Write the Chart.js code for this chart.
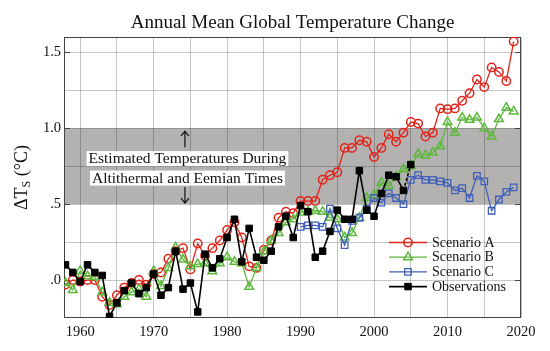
<!DOCTYPE html>
<html>
<head>
<meta charset="utf-8">
<script src="https://cdn.jsdelivr.net/npm/chart.js@4.4.1/dist/chart.umd.min.js"></script>
<style>
  html, body { margin: 0; padding: 0; background: #fff; }
</style>
</head>
<body>
<canvas id="chart" width="550" height="351"></canvas>
<script>
// years on the x axis
const years = [1958, 1959, 1960, 1961, 1962, 1963, 1964, 1965, 1966, 1967,
  1968, 1969, 1970, 1971, 1972, 1973, 1974, 1975, 1976, 1977,
  1978, 1979, 1980, 1981, 1982, 1983, 1984, 1985, 1986, 1987,
  1988, 1989, 1990, 1991, 1992, 1993, 1994, 1995, 1996, 1997,
  1998, 1999, 2000, 2001, 2002, 2003, 2004, 2005, 2006, 2007,
  2008, 2009, 2010, 2011, 2012, 2013, 2014, 2015, 2016, 2017,
  2018, 2019];

const scenarioA = [-0.03, 0.00, -0.01, 0.00, 0.00, -0.11, -0.165, -0.10, -0.05, -0.02,
  0.00, -0.03, 0.04, 0.05, 0.14, 0.19, 0.21, 0.07, 0.24, 0.16,
  0.21, 0.26, 0.33, 0.38, 0.28, 0.09, 0.08, 0.20, 0.26, 0.41,
  0.45, 0.44, 0.52, 0.52, 0.52, 0.66, 0.69, 0.71, 0.87, 0.87,
  0.92, 0.91, 0.81, 0.87, 0.96, 0.91, 0.97, 1.04, 1.03, 0.945,
  0.97, 1.13, 1.125, 1.13, 1.18, 1.23, 1.32, 1.27, 1.40, 1.37,
  1.31, 1.57];

const scenarioB = [-0.02, -0.065, 0.06, 0.025, 0.02, -0.08, -0.15, -0.16, -0.11, -0.08,
  -0.06, -0.11, 0.06, -0.04, 0.08, 0.215, 0.135, 0.09, 0.105, 0.11,
  0.057, 0.11, 0.15, 0.12, 0.11, -0.045, 0.08, 0.19, 0.26, 0.31,
  0.38, 0.40, 0.445, 0.45, 0.456, 0.45, 0.41, 0.40, 0.28, 0.31,
  0.41, 0.54, 0.56, 0.64, 0.62, 0.68, 0.73, 0.75, 0.83, 0.82,
  0.84, 0.88, 1.04, 0.97, 1.07, 1.055, 1.07, 1.00, 0.945, 1.06,
  1.135, 1.11];

const scenarioC = [null, null, null, null, null, null, null, null, null, null,
  null, null, null, null, null, null, null, null, null, null,
  null, null, null, null, null, null, null, null, null, null,
  null, null, 0.35, 0.36, 0.36, 0.35, 0.47, 0.34, 0.23, 0.39,
  0.41, 0.47, 0.54, 0.51, 0.57, 0.54, 0.50, 0.66, 0.69, 0.66,
  0.66, 0.65, 0.64, 0.59, 0.605, 0.54, 0.686, 0.65, 0.456, 0.53,
  0.58, 0.61];

const observations = [0.10, 0.05, -0.01, 0.10, 0.05, 0.03, -0.24, -0.15, -0.07, -0.02,
  -0.09, -0.05, 0.04, -0.10, -0.05, 0.19, -0.06, -0.02, -0.21, 0.17,
  0.08, 0.14, 0.28, 0.40, 0.12, 0.34, 0.15, 0.13, 0.19, 0.35,
  0.42, 0.28, 0.49, 0.45, 0.15, 0.19, 0.32, 0.46, 0.40, 0.40,
  0.72, 0.46, 0.42, 0.57, 0.69, 0.68, 0.59, 0.76, null, null,
  null, null, null, null, null, null, null, null, null, null,
  null, null];

// ticks
const xGridYears = [1960, 1965, 1970, 1975, 1980, 1985, 1990, 1995, 2000, 2005, 2010, 2015, 2020];
const xTickLabels = ['1960', '1970', '1980', '1990', '2000', '2010', '2020'];
const yGridValues = [0, 0.25, 0.5, 0.75, 1.0, 1.25, 1.5];
const yTickValues = [0, 0.5, 1.0, 1.5];
const yTickLabels = ['.0', '.5', '1.0', '1.5'];

// shaded range
const bandLow = 0.5;
const bandHigh = 1.0;

const SERIF = "'Liberation Serif', 'Times New Roman', serif";

const toPoints = arr => years.map((yr, i) => ({x: yr, y: arr[i]})).filter(p => p.y !== null);

const bandPlugin = {
  id: 'band',
  beforeDraw(chart) {
    const {ctx, chartArea: a, scales: {y}} = chart;
    ctx.save();
    ctx.fillStyle = '#b4b1b1';
    const top = y.getPixelForValue(bandHigh);
    const bot = y.getPixelForValue(bandLow);
    ctx.fillRect(a.left, top, a.right - a.left, bot - top);
    ctx.restore();
  }
};

const framePlugin = {
  id: 'frame',
  beforeDatasetsDraw(chart) {
    const {ctx, chartArea: a, scales: {y}} = chart;
    ctx.save();
    ctx.strokeStyle = '#444';
    ctx.lineWidth = 1;
    ctx.strokeRect(a.left + 0.5, a.top + 0.5, a.right - a.left - 1, a.bottom - a.top - 1);
    // short inner ticks on both sides
    yTickValues.forEach(v => {
      const py = Math.round(y.getPixelForValue(v)) + 0.5;
      ctx.beginPath();
      ctx.moveTo(a.left, py); ctx.lineTo(a.left + 6, py);
      ctx.moveTo(a.right, py); ctx.lineTo(a.right - 6, py);
      ctx.stroke();
    });
    ctx.restore();
  }
};

function arrow(ctx, x, y0, y1) {
  const dir = y1 < y0 ? -1 : 1;
  ctx.beginPath();
  ctx.moveTo(x, y0); ctx.lineTo(x, y1);
  ctx.moveTo(x - 4, y1 - dir * 5); ctx.lineTo(x, y1); ctx.lineTo(x + 4, y1 - dir * 5);
  ctx.stroke();
}

const notePlugin = {
  id: 'note',
  afterDatasetsDraw(chart) {
    const {ctx, chartArea: a, scales: {x, y}} = chart;
    const cx = x.getPixelForValue(1974.6);
    const yHi = y.getPixelForValue(bandHigh);
    const yLo = y.getPixelForValue(bandLow);
    ctx.save();
    ctx.strokeStyle = '#111';
    ctx.lineWidth = 1.2;
    arrow(ctx, cx - 2.5, yHi + 19, yHi + 3);
    arrow(ctx, cx - 2.5, yLo - 17, yLo - 1);
    ctx.font = '15.5px ' + SERIF;
    ctx.textAlign = 'center';
    ctx.textBaseline = 'middle';
    const lines = [['Estimated Temperatures During', yHi + 30.5], ['Altithermal and Eemian Times', yLo - 26]];
    lines.forEach(([t, ty]) => {
      const w = ctx.measureText(t).width + 4;
      ctx.fillStyle = '#fff';
      ctx.fillRect(cx - w / 2, ty - 7.5, w, 15);
      ctx.fillStyle = '#111';
      ctx.fillText(t, cx, ty + 0.5);
    });
    ctx.restore();
  },
  afterDraw(chart) {
    const {ctx, chartArea: a} = chart;
    ctx.save();
    // title
    ctx.fillStyle = '#111';
    ctx.font = '19px ' + SERIF;
    ctx.textAlign = 'center';
    ctx.textBaseline = 'alphabetic';
    ctx.fillText('Annual Mean Global Temperature Change', (a.left + a.right) / 2, 28);
    // y axis title with subscript
    ctx.translate(22, (a.top + a.bottom) / 2);
    ctx.rotate(-Math.PI / 2);
    ctx.textBaseline = 'middle';
    ctx.textAlign = 'left';
    const big = '18px ' + SERIF, small = '12px ' + SERIF;
    ctx.font = big;
    const w1 = ctx.measureText('\u0394T').width;
    const w3 = ctx.measureText(' (\u00B0C)').width;
    ctx.font = small;
    const w2 = ctx.measureText('S').width;
    let sx = -(w1 + w2 + w3) / 2;
    ctx.font = big;
    ctx.fillText('\u0394T', sx, 0);
    ctx.font = small;
    ctx.fillText('S', sx + w1, 4.5);
    ctx.font = big;
    ctx.fillText(' (\u00B0C)', sx + w1 + w2, 0);
    ctx.restore();

    // legend inside plot
    ctx.save();
    ctx.font = '14px ' + SERIF;
    ctx.textBaseline = 'middle';
    ctx.textAlign = 'left';
    chart.data.datasets.forEach((ds, i) => {
      const ly = 242.5 + i * 14.7;
      const lx0 = a.right - 132, lx1 = a.right - 94;
      ctx.strokeStyle = ds.borderColor;
      ctx.lineWidth = ds.borderWidth;
      ctx.beginPath(); ctx.moveTo(lx0, ly); ctx.lineTo(lx1, ly); ctx.stroke();
      ctx.fillStyle = ds.pointBackgroundColor;
      ctx.lineWidth = ds.pointBorderWidth;
      Chart.helpers.drawPoint(ctx, {pointStyle: ds.pointStyle, radius: ds.pointRadius, rotation: 0, borderWidth: ds.pointBorderWidth}, (lx0 + lx1) / 2, ly);
      ctx.fillStyle = '#111';
      ctx.fillText(ds.label, a.right - 89, ly + 0.5);
    });
    ctx.restore();
  }
};

new Chart(document.getElementById('chart'), {
  type: 'line',
  data: {
    datasets: [{
      label: 'Scenario A',
      data: toPoints(scenarioA),
      borderColor: '#e2231a',
      borderWidth: 1.3,
      pointStyle: 'circle',
      pointRadius: 4.2,
      pointBorderWidth: 1.5,
      pointBackgroundColor: 'rgba(0,0,0,0)',
      order: 3
    }, {
      label: 'Scenario B',
      data: toPoints(scenarioB),
      borderColor: '#5cb83a',
      borderWidth: 1.3,
      pointStyle: 'triangle',
      pointRadius: 5,
      pointBorderWidth: 1.5,
      pointBackgroundColor: 'rgba(0,0,0,0)',
      order: 2
    }, {
      label: 'Scenario C',
      data: toPoints(scenarioC),
      borderColor: '#3f5fb8',
      borderWidth: 1.3,
      pointStyle: 'rect',
      pointRadius: 4.6,
      pointBorderWidth: 1.3,
      pointBackgroundColor: 'rgba(0,0,0,0)',
      order: 1
    }, {
      label: 'Observations',
      data: toPoints(observations),
      borderColor: '#000',
      borderWidth: 1.6,
      pointStyle: 'rect',
      pointRadius: 4.6,
      pointBorderWidth: 1,
      pointBackgroundColor: '#000',
      segment: {
        borderDash: c => c.p1.parsed.x === 2005 ? [3, 2] : undefined
      },
      order: 0
    }]
  },
  options: {
    responsive: false,
    animation: false,
    devicePixelRatio: 1,
    layout: { padding: { left: 0, top: 37, right: 29, bottom: 0 } },
    plugins: {
      legend: { display: false },
      title: { display: false },
      tooltip: { enabled: false }
    },
    scales: {
      x: {
        type: 'linear',
        min: 1957.8,
        max: 2020,
        afterFit: s => { s.height = 33; },
        afterBuildTicks: s => { s.ticks = xGridYears.map(v => ({value: v})); },
        grid: { color: 'rgba(0,0,0,0.22)', drawTicks: false },
        border: { display: false },
        ticks: {
          autoSkip: false,
          maxRotation: 0,
          padding: 5,
          color: '#111',
          font: { family: SERIF, size: 14.5 },
          callback: v => xTickLabels.includes(String(v)) ? String(v) : ''
        }
      },
      y: {
        min: -0.25,
        max: 1.6,
        afterFit: s => { s.width = 64; },
        afterBuildTicks: s => { s.ticks = yGridValues.map(v => ({value: v})); },
        grid: { color: 'rgba(0,0,0,0.22)', drawTicks: false },
        border: { display: false },
        ticks: {
          padding: 3,
          color: '#111',
          font: { family: SERIF, size: 14.5 },
          callback: v => {
            const i = yTickValues.findIndex(t => Math.abs(t - v) < 1e-6);
            return i >= 0 ? yTickLabels[i] : '';
          }
        }
      }
    }
  },
  plugins: [bandPlugin, framePlugin, notePlugin]
});
</script>
</body>
</html>
